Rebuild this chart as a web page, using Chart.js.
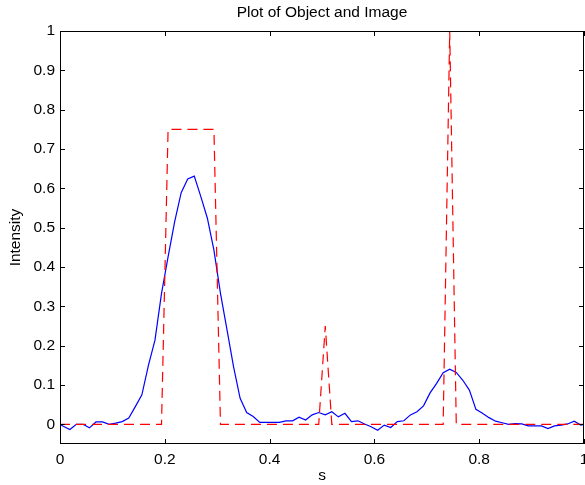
<!DOCTYPE html>
<html lang="en">
  <head>
    <meta charset="UTF-8" />
    <title>Plot of Object and Image</title>
    <style>
      * {
        margin: 0;
        padding: 0;
        box-sizing: border-box;
      }
      body {
        background: white;
      }
      #myChart {
        display: block;
      }
    </style>
  </head>
  <body>
    <canvas id="myChart" width="585" height="485"></canvas>

    <script src="https://cdn.jsdelivr.net/npm/chart.js"></script>

    <script>
      // sample positions along s
      const sValues = [
        0,
        0.00625, 0.01875, 0.03125, 0.04375, 0.05625, 0.06875, 0.08125, 0.09375, 0.10625, 0.11875,
        0.13125, 0.14375, 0.15625, 0.16875, 0.18125, 0.19375, 0.20625, 0.21875, 0.23125, 0.24375,
        0.25625, 0.26875, 0.28125, 0.29375, 0.30625, 0.31875, 0.33125, 0.34375, 0.35625, 0.36875,
        0.38125, 0.39375, 0.40625, 0.41875, 0.43125, 0.44375, 0.45625, 0.46875, 0.48125, 0.49375,
        0.50625, 0.51875, 0.53125, 0.54375, 0.55625, 0.56875, 0.58125, 0.59375, 0.60625, 0.61875,
        0.63125, 0.64375, 0.65625, 0.66875, 0.68125, 0.69375, 0.70625, 0.71875, 0.73125, 0.74375,
        0.75625, 0.76875, 0.78125, 0.79375, 0.80625, 0.81875, 0.83125, 0.84375, 0.85625, 0.86875,
        0.88125, 0.89375, 0.90625, 0.91875, 0.93125, 0.94375, 0.95625, 0.96875, 0.98125, 0.99375,
        1,
      ];

      // object (red dashed)
      const objectValues = [
        0,
        0, 0, 0, 0, 0, 0, 0, 0, 0, 0,
        0, 0, 0, 0, 0, 0, 0.75, 0.75, 0.75, 0.75,
        0.75, 0.75, 0.75, 0.75, 0, 0, 0, 0, 0, 0,
        0, 0, 0, 0, 0, 0, 0, 0, 0, 0,
        0.25, 0, 0, 0, 0, 0, 0, 0, 0, 0,
        0, 0, 0, 0, 0, 0, 0, 0, 0, 1,
        0, 0, 0, 0, 0, 0, 0, 0, 0, 0,
        0, 0, 0, 0, 0, 0, 0, 0, 0, 0,
        0,
      ];

      // image (blue solid)
      const imageValues = [
        0,
        -0.005, -0.013, 0.0, 0.0, -0.009, 0.006, 0.006, 0.0, 0.003, 0.007,
        0.016, 0.045, 0.075, 0.15, 0.214, 0.333, 0.426, 0.515, 0.589, 0.624,
        0.631, 0.579, 0.524, 0.443, 0.333, 0.24, 0.146, 0.066, 0.03, 0.02,
        0.005, 0.005, 0.005, 0.005, 0.009, 0.009, 0.018, 0.011, 0.024, 0.03,
        0.024, 0.032, 0.019, 0.028, 0.007, 0.009, 0.001, -0.006, -0.015, -0.002,
        -0.008, 0.007, 0.009, 0.024, 0.032, 0.047, 0.08, 0.104, 0.131, 0.14,
        0.132, 0.112, 0.087, 0.038, 0.028, 0.017, 0.008, 0.004, 0.0, 0.002,
        0.001, -0.004, -0.004, -0.004, -0.011, -0.004, -0.002, 0.001, 0.008, -0.002,
        0,
      ];

      const xTicks = [0, 0.2, 0.4, 0.6, 0.8, 1];
      const yTicks = [0, 0.1, 0.2, 0.3, 0.4, 0.5, 0.6, 0.7, 0.8, 0.9, 1];

      const fontFamily = "'Liberation Sans', Arial, Helvetica, sans-serif";

      const toPoints = (ys) => sValues.map((s, i) => ({ x: s, y: ys[i] }));

      // box, inward ticks, labels and titles in the matlab style
      const matlabAxes = {
        id: "matlabAxes",
        afterDraw(chart) {
          const { ctx, chartArea, scales } = chart;
          const { left, right, top, bottom } = chartArea;
          const tickLen = 5;
          ctx.save();
          ctx.strokeStyle = "#000";
          ctx.lineWidth = 1;
          ctx.strokeRect(left + 0.5, top + 0.5, right - left - 1, bottom - top - 1);

          ctx.beginPath();
          xTicks.forEach((v) => {
            const x = Math.round(scales.x.getPixelForValue(v)) + 0.5;
            ctx.moveTo(x, bottom);
            ctx.lineTo(x, bottom - tickLen);
            ctx.moveTo(x, top);
            ctx.lineTo(x, top + tickLen);
          });
          yTicks.forEach((v) => {
            const y = Math.round(scales.y.getPixelForValue(v)) + 0.5;
            ctx.moveTo(left, y);
            ctx.lineTo(left + tickLen, y);
            ctx.moveTo(right, y);
            ctx.lineTo(right - tickLen, y);
          });
          ctx.stroke();

          ctx.fillStyle = "#000";
          ctx.font = "15.5px " + fontFamily;
          ctx.textAlign = "center";
          ctx.textBaseline = "top";
          xTicks.forEach((v) => {
            ctx.fillText(String(v), scales.x.getPixelForValue(v), bottom + 8);
          });
          ctx.textAlign = "right";
          ctx.textBaseline = "middle";
          yTicks.forEach((v) => {
            ctx.fillText(String(v), left - 5, scales.y.getPixelForValue(v));
          });

          ctx.font = "15.5px " + fontFamily;
          ctx.textAlign = "center";
          ctx.textBaseline = "alphabetic";
          ctx.fillText("Plot of Object and Image", (left + right) / 2, 17);
          ctx.fillText("s", (left + right) / 2, 480);

          ctx.translate(20, (top + bottom) / 2);
          ctx.rotate(-Math.PI / 2);
          ctx.fillText("Intensity", 0, 0);
          ctx.restore();
        },
      };

      const config = {
        type: "scatter",
        data: {
          datasets: [
            {
              label: "Object",
              data: toPoints(objectValues),
              showLine: true,
              borderColor: "rgb(255, 0, 0)",
              borderWidth: 1.2,
              borderDash: [10, 6],
              pointRadius: 0,
              tension: 0,
            },
            {
              label: "Image",
              data: toPoints(imageValues),
              showLine: true,
              borderColor: "rgb(0, 0, 255)",
              borderWidth: 1.2,
              pointRadius: 0,
              tension: 0,
            },
          ],
        },
        options: {
          responsive: false,
          animation: false,
          layout: {
            padding: { left: 60, right: 1, top: 31, bottom: 41 },
          },
          plugins: {
            legend: { display: false },
            tooltip: { enabled: false },
          },
          scales: {
            x: { type: "linear", min: 0, max: 1, display: false },
            y: { type: "linear", min: -0.05, max: 1, display: false },
          },
        },
        plugins: [matlabAxes],
      };

      const myChart = new Chart(document.getElementById("myChart"), config);
    </script>
  </body>
</html>
